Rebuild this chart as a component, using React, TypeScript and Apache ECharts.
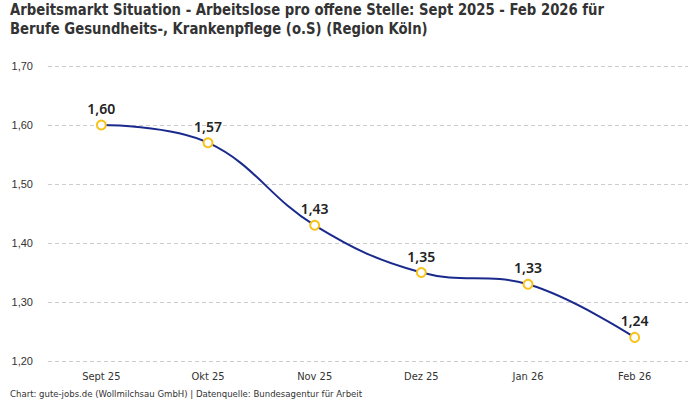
import React, { useEffect, useRef } from "react";
import * as echarts from "echarts";

const categories = ["Sept 25", "Okt 25", "Nov 25", "Dez 25", "Jan 26", "Feb 26"];
const values = [1.6, 1.57, 1.43, 1.35, 1.33, 1.24];
const titleText =
  "Arbeitsmarkt Situation - Arbeitslose pro offene Stelle: Sept 2025 - Feb 2026 für\nBerufe Gesundheits-, Krankenpflege (o.S) (Region Köln)";
const footerText = "Chart: gute-jobs.de (Wollmilchsau GmbH) | Datenquelle: Bundesagentur für Arbeit";

const fmt = (v: number) => v.toFixed(2).replace(".", ",");
const COND = "'DejaVu Sans Condensed', Roboto, sans-serif";

export default function App() {
  const ref = useRef<HTMLDivElement>(null);
  useEffect(() => {
    const chart = echarts.init(ref.current!, null, { renderer: "svg" });
    chart.setOption({
      animation: false,
      backgroundColor: "#ffffff",
      graphic: [
        {
          type: "text",
          x: 10,
          y: 0,
          scaleX: 0.92,
          style: {
            text: titleText,
            fontFamily: COND,
            fontWeight: "bold",
            fontSize: 16,
            lineHeight: 19.5,
            fill: "#333333",
            verticalAlign: "top",
          },
        },
        {
          type: "text",
          left: 10,
          top: 388,
          style: {
            text: footerText,
            fontFamily: COND,
            fontSize: 9.5,
            fill: "#333333",
          },
        },
      ],
      grid: { left: 48, right: 12, top: 66, bottom: 39 },
      xAxis: {
        type: "category",
        data: categories,
        boundaryGap: true,
        axisLine: { show: false },
        axisTick: { show: false },
        axisLabel: {
          margin: 10,
          fontFamily: COND,
          fontSize: 11,
          color: "#333333",
        },
      },
      yAxis: {
        type: "value",
        min: 1.2,
        max: 1.7,
        interval: 0.1,
        axisLabel: {
          formatter: (v: number) => fmt(v),
          fontFamily: "'Liberation Sans', Arial, sans-serif",
          fontSize: 11,
          color: "#333333",
          margin: 15,
        },
        splitLine: { lineStyle: { type: [4, 3], color: "#cccccc" } },
      },
      series: [
        {
          type: "line",
          data: values,
          smooth: 0.4,
          symbol: "circle",
          symbolSize: 9,
          showAllSymbol: true,
          lineStyle: { color: "#1a2a8c", width: 2 },
          itemStyle: { color: "#ffffff", borderColor: "#f7c21a", borderWidth: 2 },
          label: {
            show: true,
            position: "top",
            distance: 4,
            formatter: (p: any) => fmt(p.value),
            fontFamily: "'Noto Sans', sans-serif",
            fontWeight: 600,
            fontSize: 14,
            color: "#222222",
          },
        },
      ],
    });
    return () => chart.dispose();
  }, []);
  return <div ref={ref} style={{ width: 700, height: 400, position: "absolute", left: 0, top: 0 }} />;
}
